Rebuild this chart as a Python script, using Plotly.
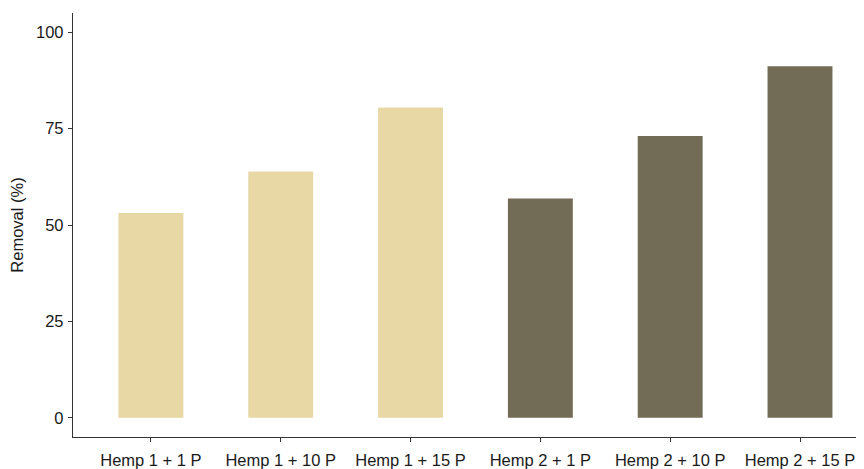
import plotly.graph_objects as go

categories = ["Hemp 1 + 1 P", "Hemp 1 + 10 P", "Hemp 1 + 15 P",
              "Hemp 2 + 1 P", "Hemp 2 + 10 P", "Hemp 2 + 15 P"]
removal = [53.1, 63.9, 80.5, 56.9, 73.1, 91.2]
bar_colors = ["#E7D8A6", "#E7D8A6", "#E7D8A6", "#726B55", "#726B55", "#726B55"]
y_ticks = [0, 25, 50, 75, 100]

fig = go.Figure(go.Bar(x=categories, y=removal, marker_color=bar_colors,
                       marker_line_width=0, width=0.5))

font = dict(family="Liberation Sans, Arial, sans-serif", size=16.5, color="#1a1a1a")
# page body has an 8px default margin, so the figure is 8px smaller
fig.update_layout(
    width=856, height=461,
    margin=dict(l=65, r=0, t=5, b=32, autoexpand=False),
    plot_bgcolor="white", paper_bgcolor="white",
    font=font, showlegend=False, bargap=0.5,
)
fig.update_xaxes(
    range=[-0.6, 5.493], showline=True, linecolor="#333333", linewidth=1.3,
    ticks="outside", ticklen=4, tickcolor="#333333", showgrid=False, zeroline=False,
    tickfont=font, automargin=False, ticklabelstandoff=4,
)
fig.update_yaxes(
    range=[-5, 105], tickvals=y_ticks, showline=True, linecolor="#333333", linewidth=1.3,
    ticks="outside", ticklen=4, tickcolor="#333333", showgrid=False, zeroline=False,
    title=dict(text="Removal (%)", font=font, standoff=12), tickfont=font,
    automargin=False, ticklabelstandoff=1,
)
fig.write_html("out.html")
